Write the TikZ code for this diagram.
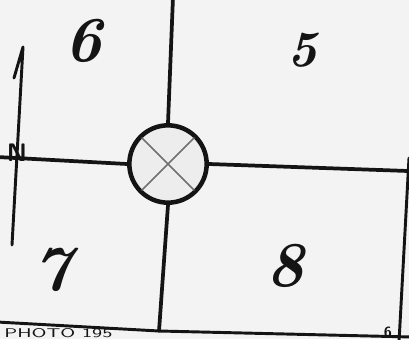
\documentclass[tikz,border=0pt]{standalone}
\usetikzlibrary{positioning}
\definecolor{cink}{HTML}{141414}
\definecolor{cpaper}{HTML}{F3F3F3}
\definecolor{cpencil}{HTML}{707070}
\tikzset{
  every picture/.style={line cap=round, line join=round},
  road/.style={draw=cink, line width=2.8pt},
  border/.style={draw=cink, line width=2.2pt},
  well/.style={circle, draw=cink, line width=3.4pt, fill=gray!14, minimum size=58pt, inner sep=0pt},
  cross/.style={draw=cpencil, line width=1.3pt, shorten <=3pt, shorten >=3pt},
  lot/.style={font=\fontsize{#1}{#1}\selectfont\bfseries\itshape, text=cink},
  lot/.default=48,
  compass/.style={font=\sffamily\bfseries\fontsize{19}{19}\selectfont, text=cink, inner sep=0pt},
  caption/.style={font=\sffamily\fontsize{9.5}{9.5}\selectfont, text=cink, inner sep=0pt, xscale=1.6},
  pagenum/.style={font=\sffamily\bfseries\fontsize{11}{11}\selectfont, text=cink, inner sep=0pt},
}
\begin{document}
\begin{tikzpicture}[x=0.75pt, y=-0.75pt]
  \useasboundingbox (0,0) rectangle (409,339);
  \clip (0,0) rectangle (409,339);
  \fill[cpaper] (0,0) rectangle (409,339);
  % the well at the crossing
  \node[well] (well) at (168,164) {};
  \draw[cross] (well.north west) -- (well.south east);
  \draw[cross] (well.north east) -- (well.south west);
  % section lines
  \coordinate (ntop) at (173,-3);
  \coordinate (sbot) at (159,331);
  \coordinate (wend) at (-3,157);
  \coordinate (eend) at (408,171);
  \draw[road] (ntop) -- (well.north);
  \draw[road] (well.south) -- (sbot);
  \draw[road] (wend) -- (well.west);
  \draw[road] (well.east) -- (eend);
  % frame of the sheet
  \coordinate (bl) at (-3,322);
  \coordinate (br) at (412,337);
  \coordinate (rtop) at (409,158);
  \coordinate (rbot) at (399,342);
  \draw[border] (bl) -- (sbot) -- (br);
  \draw[border] (rtop) -- (rbot);
  % north arrow
  \coordinate (ntip) at (23,47);
  \coordinate (ntail) at (12,245);
  \draw[border] (14,78) -- (ntip) -- (ntail);
  \node[compass] (north) at (17,153) {N};
  % lot numbers
  \node[lot] (lotsix) at (83,41) {6};
  \node[lot=38] (lotfive) at (302,50) {5};
  \node[lot] (lotseven) at (52,270) {7};
  \node[lot] (loteight) at (285,266) {8};
  % print marks
  \node[caption, anchor=base west] (photo) at (4,337.5) {PHOTO 195};
  \node[pagenum] (page) at (388,332) {6};
\end{tikzpicture}
\end{document}
